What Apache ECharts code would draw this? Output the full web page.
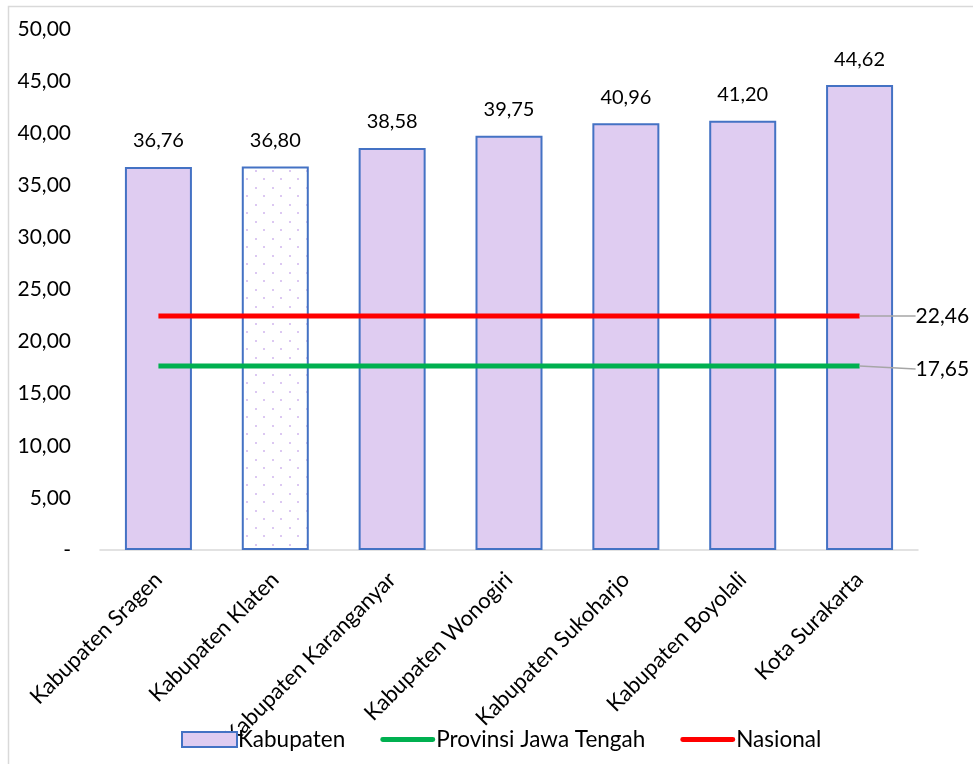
<!DOCTYPE html>
<html>
<head>
<meta charset="utf-8">
<script src="https://cdn.jsdelivr.net/npm/echarts@6/dist/echarts.min.js"></script>
<style>
html,body{margin:0;padding:0;background:#fff;}
#main{width:973px;height:764px;}
</style>
</head>
<body>
<div id="main"></div>
<script>
const categories = ["Kabupaten Sragen","Kabupaten Klaten","Kabupaten Karanganyar","Kabupaten Wonogiri","Kabupaten Sukoharjo","Kabupaten Boyolali","Kota Surakarta"];
const kabupaten = [36.76, 36.80, 38.58, 39.75, 40.96, 41.20, 44.62];
const provinsi = [17.65, 17.65, 17.65, 17.65, 17.65, 17.65, 17.65];
const nasional = [22.46, 22.46, 22.46, 22.46, 22.46, 22.46, 22.46];
const highlightIndex = 1;

const FONT = 'Lato';
const fmt = v => v === 0 ? '-' : v.toFixed(2).replace('.', ',');

// dotted pattern for highlighted bar
const pc = document.createElement('canvas');
pc.width = 17; pc.height = 17;
const pctx = pc.getContext('2d');
pctx.fillStyle = '#ffffff';
pctx.fillRect(0, 0, 17, 17);
pctx.fillStyle = '#dcc8f2';
pctx.fillRect(0, 0, 2, 2);
pctx.fillRect(8, 8, 2, 2);

const barData = kabupaten.map((v, i) => i === highlightIndex
  ? { value: v, itemStyle: { color: { image: pc, repeat: 'repeat' } } }
  : v);

const lineIcon = 'path://M2,0 H53 A2.5,2.5 0 0 1 53,5 H2 A2.5,2.5 0 0 1 2,0 Z';

function endLabelSeries(name, data, color, dy) {
  const last = data.length - 1;
  const items = data.map((v, i) => i === last
    ? { value: v,
        label: { show: true, position: 'right', fontFamily: FONT, fontSize: 21, color: '#000', formatter: p => fmt(p.value) },
        labelLine: { show: true, lineStyle: { color: '#a6a6a6', width: 1.5 } } }
    : { value: v, label: { show: false }, labelLine: { show: false } });
  return {
    name: name, type: 'line', data: items, symbol: 'circle', symbolSize: 0.01, showSymbol: true,
    lineStyle: { color: color, width: 5 }, itemStyle: { color: color },
    label: { show: false },
    labelLayout: p => p.dataIndex === last ? { dx: 51, dy: dy } : {},
    z: 3
  };
}

const chart = echarts.init(document.getElementById('main'), null, { renderer: 'canvas' });
chart.setOption({
  animation: false,
  textStyle: { fontFamily: FONT },
  graphic: [{
    type: 'rect', shape: { x: 8.5, y: 6.5, width: 1100, height: 1100 },
    style: { fill: 'none', stroke: '#d9d9d9', lineWidth: 1.5 }, silent: true
  }],
  grid: { left: 100, right: 55, top: 29, bottom: 214, containLabel: false },
  legend: {
    bottom: 8, left: 176, itemGap: 35, itemWidth: 55, itemHeight: 15,
    textStyle: { fontFamily: FONT, fontSize: 22.5, color: '#000', padding: [0, 0, 0, -4] },
    data: [
      { name: 'Kabupaten', icon: 'rect' },
      { name: 'Provinsi Jawa Tengah', icon: lineIcon },
      { name: 'Nasional', icon: lineIcon }
    ]
  },
  xAxis: {
    type: 'category', data: categories,
    axisLine: { show: true, lineStyle: { color: '#d9d9d9', width: 1.5 } },
    axisTick: { show: false },
    axisLabel: { rotate: 45, fontFamily: FONT, fontSize: 22, color: '#000', margin: 26, interval: 0 }
  },
  yAxis: {
    type: 'value', min: 0, max: 50, interval: 5,
    axisLine: { show: false }, axisTick: { show: false }, splitLine: { show: false },
    axisLabel: { formatter: fmt, fontFamily: FONT, fontSize: 21, color: '#000', margin: 29 }
  },
  series: [
    {
      name: 'Kabupaten', type: 'bar', data: barData, barWidth: 67,
      itemStyle: { color: '#dfccf1', borderColor: '#4472c4', borderWidth: 2 },
      label: { show: true, position: 'top', distance: 16, fontFamily: FONT, fontSize: 20, color: '#000', formatter: p => fmt(p.value) },
      z: 2
    },
    endLabelSeries('Provinsi Jawa Tengah', provinsi, '#00b050', 3),
    endLabelSeries('Nasional', nasional, '#ff0000', 0)
  ]
});
</script>
</body>
</html>
